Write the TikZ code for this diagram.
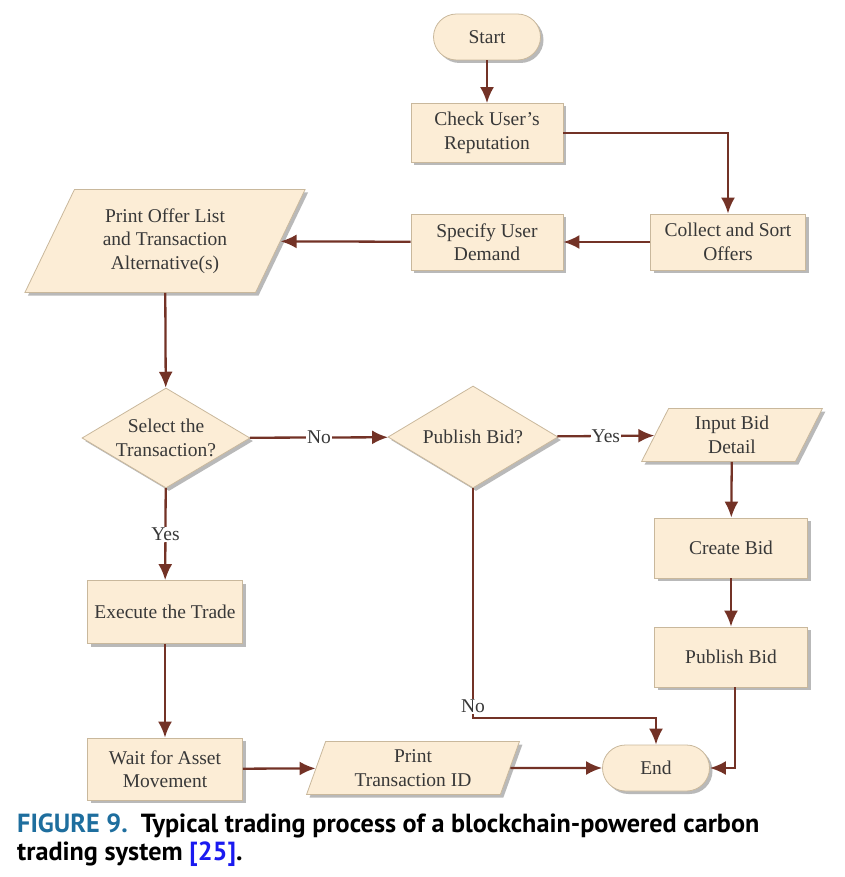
\documentclass[tikz,border=0pt]{standalone}
\usepackage{fontspec}
\setmainfont{Liberation Serif}
\newfontfamily\capfont{PT Sans}
\usetikzlibrary{shapes.geometric,arrows.meta,shadows}

\definecolor{boxfill}{HTML}{FCEDD6}
\definecolor{boxline}{HTML}{C9B89C}
\definecolor{flowcol}{HTML}{733226}
\definecolor{txtcol}{HTML}{383838}
\definecolor{figblue}{HTML}{1E6E9E}
\definecolor{refblue}{HTML}{1A1AF0}

\begin{document}
\begin{tikzpicture}[x=1pt, y=-1pt,
        every node/.style={font=\fontsize{19.5}{23.5}\selectfont, text=txtcol},
        box/.style={draw=boxline, fill=boxfill, line width=0.8pt, align=center, inner sep=2pt,
            drop shadow={shadow xshift=3pt, shadow yshift=-3pt, fill=black!50, opacity=0.55}},
        proc/.style={box, rectangle},
        term/.style={box, rectangle, rounded corners=23pt, minimum width=107pt, minimum height=46pt},
        io/.style={box, trapezium, trapezium stretches=true, trapezium left angle=#1, trapezium right angle={180-#1}},
        decide/.style={box, diamond, aspect=1.7, inner sep=-8pt},
        flow/.style={draw=flowcol, line width=2.3pt, -{Latex[length=16pt, width=14pt]}},
        lbl/.style={fill=white, inner sep=1pt}]
    \useasboundingbox (0,0) rectangle (844,877);

    \node[term] (start) at (487,37) {Start};
    \node[proc, minimum width=152pt, minimum height=59pt] (check) at (487,133) {Check User's\\Reputation};
    \node[proc, minimum width=155pt, minimum height=56pt] (collect) at (728,242) {Collect and Sort\\Offers};
    \node[proc, minimum width=152pt, minimum height=56pt] (specify) at (487,242) {Specify User\\Demand};
    \node[io=63, minimum width=281pt, minimum height=103pt] (offers) at (165,241) {Print Offer List\\and Transaction\\Alternative(s)};

    \node[decide, minimum width=168pt, minimum height=100pt] (selectq) at (166,438) {Select the\\Transaction?};
    \node[decide, minimum width=170pt, minimum height=102pt] (publishq) at (473,437) {Publish Bid?};
    \node[io=68, minimum width=181pt, minimum height=53pt] (inputbid) at (732,435) {Input Bid\\Detail};
    \node[proc, minimum width=153pt, minimum height=60pt] (create) at (731,548) {Create Bid};
    \node[proc, minimum width=153pt, minimum height=60pt] (bidpub) at (731,657) {Publish Bid};

    \node[proc, minimum width=155pt, minimum height=63pt] (execute) at (165,612) {Execute the Trade};
    \node[proc, minimum width=155pt, minimum height=62pt] (wait) at (165,769) {Wait for Asset\\Movement};
    \node[io=72, minimum width=213pt, minimum height=53pt] (printid) at (413,768) {Print\\Transaction ID};
    \node[term] (end) at (656,768) {End};

    \coordinate (nobend) at (473,718);

    \draw[flow] (start) -- (check);
    \draw[flow] (check) -| (collect);
    \draw[flow] (collect) -- (specify);
    \draw[flow] (specify) -- (offers);
    \draw[flow] (offers) -- (selectq);
    \draw[flow] (selectq) -- node[lbl] {No} (publishq);
    \draw[flow] (publishq) -- node[lbl] {Yes} (inputbid);
    \draw[flow] (inputbid) -- (create);
    \draw[flow] (create) -- (bidpub);
    \draw[flow] (selectq) -- node[lbl, pos=0.5] {Yes} (execute);
    \draw[flow] (execute) -- (wait);
    \draw[flow] (wait) -- (printid);
    \draw[flow] (printid) -- (end);
    \draw[flow] (publishq) -- node[lbl, pos=0.95] {No} (nobend) -| (end);
    \draw[flow] (bidpub.south -| 735,0) |- (end);

    \node[anchor=base west, text=black, inner sep=0pt, font=\capfont\bfseries\fontsize{26.2}{28}\selectfont] (caption1) at (17,832)
        {\textcolor{figblue}{FIGURE 9.}\ \ Typical trading process of a blockchain-powered carbon};
    \node[anchor=base west, text=black, inner sep=0pt, font=\capfont\bfseries\fontsize{26.2}{28}\selectfont] (caption2) at (17,860)
        {trading system \textcolor{refblue}{[25]}.};
\end{tikzpicture}
\end{document}
